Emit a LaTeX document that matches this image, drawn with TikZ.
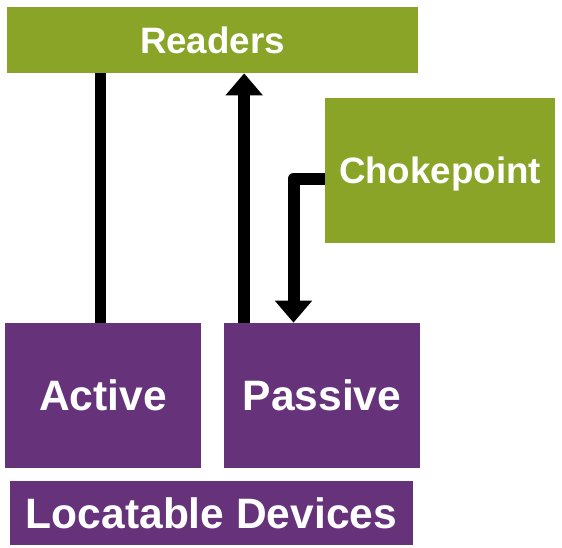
\documentclass[tikz,border=0pt]{standalone}
\usepackage{fontspec}
\setmainfont{Liberation Sans}
\usetikzlibrary{arrows.meta}
\definecolor{rdgreen}{RGB}{138,164,40}
\definecolor{rdpurple}{RGB}{102,51,122}
\begin{document}
\begin{tikzpicture}[
  x=0.02cm, y=-0.02cm,
  every node/.style={inner sep=0pt, text=white, font=\bfseries},
  greenbox/.style={fill=rdgreen, font=\bfseries\fontsize{20.9}{24}\selectfont},
  purplebox/.style={fill=rdpurple, font=\bfseries\fontsize{24.2}{28}\selectfont},
  link/.style={line width=0.24cm, line join=round},
  tip/.style={-{Triangle[width=0.72cm,length=0.44cm]}}
]
  \useasboundingbox (0,0) rectangle (562,548);
  % readers on top, device kinds below
  \node[greenbox, minimum width=8.22cm, minimum height=1.32cm] (readers) at (212.5,40) {Readers};
  \node[greenbox, text depth=0pt, minimum width=4.6cm, minimum height=2.9cm] (choke) at (440,170.5) {Chokepoint};
  \node[purplebox, minimum width=3.92cm, minimum height=2.9cm] (active) at (103,395.5) {Active};
  \node[purplebox, minimum width=3.92cm, minimum height=2.9cm] (passive) at (322,395.5) {Passive};
  \node[purplebox, minimum width=8.06cm, minimum height=1.28cm] (devices) at (211.5,513) {Locatable Devices};

  \draw[link] ([xshift=-0.05cm]active.north) -- ([xshift=-0.05cm]active.north |- readers.south);
  \draw[link, tip] ([xshift=0.41cm]passive.north west) -- ([xshift=0.41cm]passive.north west |- readers.south);
  \draw[link, tip] ([yshift=-0.16cm]choke.west) -| ([xshift=-0.57cm]passive.north);
\end{tikzpicture}
\end{document}
